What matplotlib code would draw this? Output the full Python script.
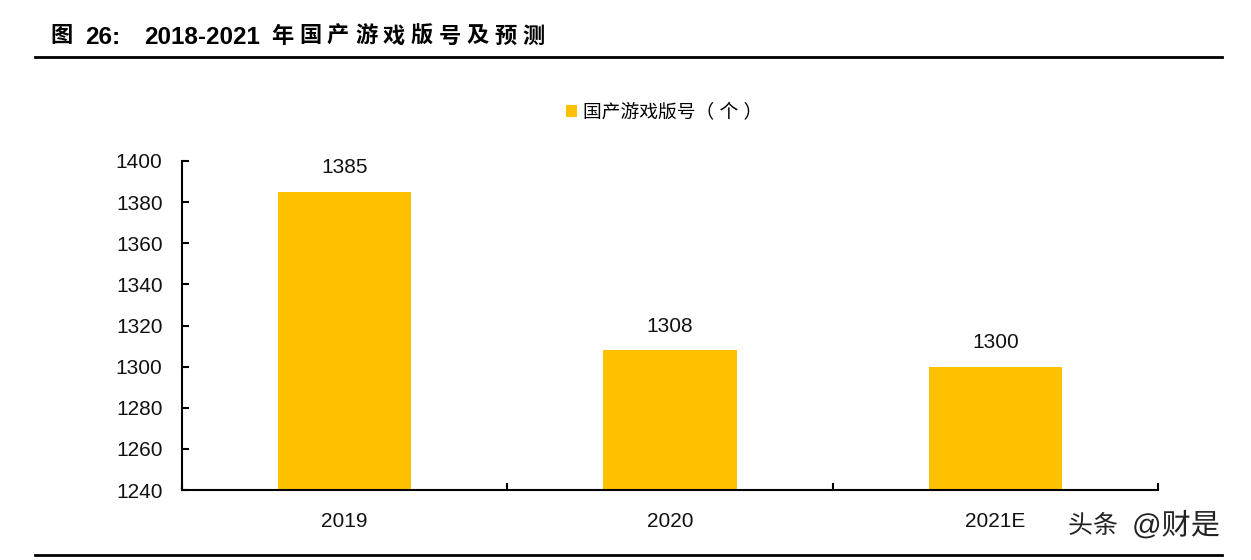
import matplotlib
matplotlib.use("Agg")
import matplotlib.pyplot as plt
import matplotlib.patheffects as pe
import numpy as np

categories = ["2019", "2020", "2021E"]
values = [1385, 1308, 1300]
series_name = "国产游戏版号（ 个 ）"
title_parts = ["图", "26:", "2018-2021"]
title_chars = "年国产游戏版号及预测"
yticks = [1240, 1260, 1280, 1300, 1320, 1340, 1360, 1380, 1400]

plt.rcParams['font.family'] = ['Liberation Sans', 'Noto Sans CJK SC', 'DejaVu Sans']

W, H = 1251, 560
fig = plt.figure(figsize=(W / 100, H / 100), dpi=100)
ax = fig.add_axes([182/W, 1-490/H, (1158-182)/W, (490-161)/H])

x = np.arange(len(categories))
ax.bar(x, values, width=0.41, color="#FFC000", label=series_name, zorder=2)
for xi, v in zip(x, values):
    ax.text(xi, v + 7, str(v), ha="center", va="bottom", fontsize=15, color="#111111")

ax.set_xlim(-0.5, len(categories) - 0.5)
ax.set_ylim(1240, 1400)
ax.set_yticks(yticks)
ax.set_yticklabels([str(t) for t in yticks], fontsize=15, color="#111111")
ax.set_xticks(x)
ax.set_xticklabels(categories, fontsize=15, color="#111111")
ax.tick_params(axis="x", length=0, pad=16)
ax.set_xticks(np.arange(-0.5, len(categories), 1), minor=True)
ax.tick_params(axis="x", which="minor", direction="in", length=5, width=1.5)
ax.tick_params(axis="y", direction="in", length=5, width=1.5, pad=14)
for s in ["top", "right"]:
    ax.spines[s].set_visible(False)
for s in ["left", "bottom"]:
    ax.spines[s].set_linewidth(1.5)
    ax.spines[s].set_color("black")

ax.legend(loc="center", bbox_to_anchor=(664/W, 1-113/H), bbox_transform=fig.transFigure,
          frameon=False, fontsize=13.5, handlelength=0.6, handleheight=0.6, handletextpad=0.3)

# title, letter-spaced as in the reference
ty = 1 - 37/H
fig.text(62/W, ty, title_parts[0], fontsize=16, fontweight="bold", va="center", ha="center")
fig.text(85/W, ty, title_parts[1], fontsize=17.5, fontweight="bold", va="center", ha="left")
fig.text(144/W, ty, title_parts[2], fontsize=17.5, fontweight="bold", va="center", ha="left")
for i, ch in enumerate(title_chars):
    fig.text((282 + i * 28)/W, ty, ch, fontsize=16, fontweight="bold", va="center", ha="center")

fig.add_artist(plt.Line2D([35/W, 1222/W], [1-57/H, 1-57/H], color="black", lw=2))
fig.add_artist(plt.Line2D([35/W, 1222/W], [1-555/H, 1-555/H], color="black", lw=2))

wm = dict(color="#222222", va="center", ha="left",
          path_effects=[pe.withStroke(linewidth=3, foreground="white")])
fig.text(1068/W, 1-526/H, "头条", fontsize=18, **wm)
fig.text(1132/W, 1-526/H, "@财是", fontsize=21, **wm)

fig.savefig("out.png", dpi=100)
